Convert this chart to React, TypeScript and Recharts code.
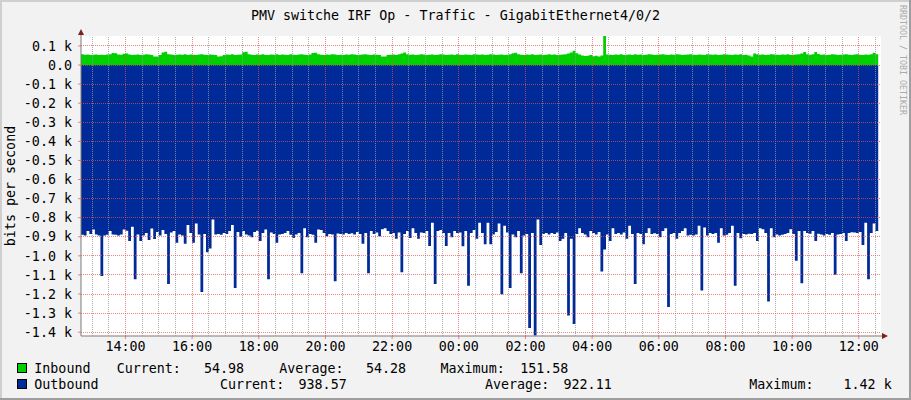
import { AreaChart, Area, XAxis, YAxis, CartesianGrid, ReferenceLine } from "recharts";

document.body.style.margin = "0";

const TITLE = "PMV switche IRF Op - Traffic - GigabitEthernet4/0/2";
const Y_LABEL = "bits per second";
const WATERMARK = "RRDTOOL / TOBI OETIKER";

// 5-minute samples, starting 12:40 on the first day
const START_HOUR = 12 + 40 / 60;
const STEP_HOURS = 5 / 60;

const INBOUND = [
  56, 54, 55, 53, 54, 55, 52, 54, 53, 55, 56, 63,
  62, 55, 54, 59, 60, 55, 53, 54, 55, 52, 54, 56,
  55, 53, 45, 44, 52, 66, 69, 57, 55, 53, 54, 55,
  54, 56, 53, 55, 54, 52, 55, 56, 54, 53, 55, 54,
  52, 44, 46, 53, 55, 54, 56, 53, 54, 55, 67, 69,
  57, 54, 53, 55, 54, 56, 53, 52, 55, 54, 56, 53,
  55, 54, 52, 56, 54, 53, 55, 57, 54, 53, 55, 63,
  64, 56, 54, 53, 55, 54, 56, 55, 53, 54, 52, 55,
  54, 56, 55, 53, 54, 55, 57, 54, 52, 55, 54, 53,
  45, 44, 52, 54, 55, 53, 56, 60, 66, 57, 54, 55,
  53, 54, 56, 55, 53, 54, 55, 52, 54, 56, 55, 53,
  54, 55, 53, 56, 54, 52, 55, 54, 53, 56, 55, 54,
  55, 53, 54, 56, 55, 53, 54, 55, 52, 54, 56, 62,
  64, 56, 54, 53, 55, 54, 56, 53, 54, 55, 53, 54,
  56, 54, 55, 53, 54, 55, 57, 60, 66, 75, 62, 55,
  50, 47, 49, 53, 46, 48, 45, 50, 151.58, 55, 54, 53,
  55, 54, 56, 53, 54, 55, 53, 56, 54, 55, 53, 54,
  56, 55, 53, 54, 55, 56, 54, 53, 55, 54, 56, 55,
  53, 54, 55, 56, 54, 53, 55, 54, 53, 56, 55, 54,
  55, 53, 54, 56, 55, 54, 53, 55, 54, 56, 53, 54,
  50, 45, 60, 56, 54, 55, 53, 54, 56, 55, 54, 53,
  55, 54, 56, 53, 54, 55, 57, 60, 68, 56, 54, 57,
  68, 58, 54, 55, 53, 54, 56, 55, 53, 54, 55, 56,
  54, 53, 55, 56, 54, 53, 55, 54, 56, 64, 56, 54.98,
];

const OUTBOUND = [
  890, 893, 870, 885, 862, 888, 893, 1105, 893, 890, 870, 888,
  890, 893, 888, 862, 868, 922, 847, 1122, 888, 922, 893, 880,
  917, 857, 912, 875, 893, 865, 885, 1148, 878, 870, 932, 888,
  893, 937, 838, 880, 932, 830, 888, 1190, 885, 981, 962, 810,
  888, 886, 890, 880, 886, 870, 838, 1169, 875, 900, 870, 888,
  893, 902, 875, 868, 922, 880, 862, 1122, 878, 885, 932, 888,
  885, 880, 870, 890, 906, 888, 880, 1091, 856, 902, 885, 890,
  932, 862, 865, 880, 897, 885, 888, 1133, 883, 885, 888, 880,
  885, 882, 888, 875, 886, 937, 880, 1091, 870, 885, 878, 897,
  860, 856, 870, 885, 880, 911, 878, 1086, 885, 870, 906, 856,
  880, 911, 878, 880, 870, 948, 826, 1148, 870, 865, 880, 948,
  880, 902, 870, 880, 878, 950, 870, 1157, 880, 865, 911, 826,
  880, 939, 826, 939, 888, 875, 830, 1201, 842, 878, 1169, 888,
  902, 870, 1091, 893, 885, 1378, 880, 1418, 810, 943, 885, 880,
  888, 880, 885, 878, 922, 911, 880, 1312, 911, 1357, 885, 856,
  880, 888, 902, 870, 880, 888, 875, 1082, 967, 888, 922, 856,
  885, 880, 888, 878, 911, 842, 885, 1148, 880, 885, 939, 880,
  856, 885, 882, 886, 902, 870, 856, 1268, 885, 880, 911, 880,
  870, 856, 893, 890, 893, 888, 842, 1181, 852, 893, 880, 886,
  880, 932, 856, 893, 890, 880, 842, 1157, 880, 908, 885, 888,
  884, 886, 880, 922, 856, 860, 880, 1239, 856, 902, 888, 893,
  890, 886, 880, 860, 885, 1026, 870, 1143, 870, 880, 884, 870,
  922, 884, 888, 893, 886, 890, 880, 1099, 888, 886, 880, 922,
  880, 876, 878, 880, 875, 943, 826, 1122, 880, 830, 870, 938.57,
];

// hours since midnight of day one
const X_TICKS = [14, 16, 18, 20, 22, 24, 26, 28, 30, 32, 34, 36];
const X_MINOR = [
  13, 13.5, 14.5, 15, 15.5, 16.5, 17, 17.5, 18.5, 19, 19.5, 20.5, 21, 21.5,
  22.5, 23, 23.5, 24.5, 25, 25.5, 26.5, 27, 27.5, 28.5, 29, 29.5, 30.5, 31,
  31.5, 32.5, 33, 33.5, 34.5, 35, 35.5, 36.5,
];
const Y_TICKS = [100, 0, -100, -200, -300, -400, -500, -600, -700, -800, -900, -1000, -1100, -1200, -1300, -1400];

const INBOUND_STATS = { current: "54.98", average: "54.28", maximum: "151.58" };
const OUTBOUND_STATS = { current: "938.57", average: "922.11", maximum: "1.42 k" };

const BACK = "#F2F2F2";
const SHADE_A = "#CFCFCF";
const SHADE_B = "#9E9E9E";
const GRID = "rgba(150,150,160,0.8)";
const MGRID = "rgba(230,80,80,0.7)";
const ARROW = "#801F1F";
const AXIS = "#7A7A7A";
const GREEN = "#00CF00";
const BLUE = "#002A97";
const FONT = "DejaVu Sans Mono";
const FS = 13.33;

const X_DOMAIN: [number, number] = [START_HOUR, START_HOUR + 24];
const Y_DOMAIN: [number, number] = [-1420, 152];
const MARGIN = { top: 36, right: 30, bottom: 0, left: 0 };

const data = INBOUND.map((v, i) => ({
  t: START_HOUR + i * STEP_HOURS,
  inb: v,
  out: -OUTBOUND[i],
}));

const fmtY = (v: number) => (v === 0 ? "0.0" : (v / 1000).toFixed(1) + " k");
const fmtX = (h: number) => String(h % 24).padStart(2, "0") + ":00";

const txt = { fontFamily: FONT, fontSize: FS, fill: "#000" };

export default function App() {
  return (
    <div style={{ position: "relative", width: 911, height: 400, background: BACK, overflow: "hidden" }}>
      {/* data layer */}
      <AreaChart width={911} height={400} data={data} margin={MARGIN}>
        <CartesianGrid horizontal={false} vertical={false} fill="#FFFFFF" fillOpacity={1} />
        <XAxis
          type="number"
          dataKey="t"
          domain={X_DOMAIN}
          ticks={X_TICKS}
          interval={0}
          tickFormatter={fmtX}
          height={64}
          tickSize={3}
          tickMargin={3}
          allowDataOverflow
          axisLine={{ stroke: AXIS }}
          tickLine={{ stroke: MGRID }}
          tick={txt}
        />
        <YAxis
          type="number"
          domain={Y_DOMAIN}
          ticks={Y_TICKS}
          interval={0}
          tickFormatter={fmtY}
          width={81}
          tickSize={3}
          tickMargin={6}
          allowDataOverflow
          axisLine={{ stroke: AXIS }}
          tickLine={{ stroke: MGRID }}
          tick={txt}
        />
        <Area type="stepAfter" dataKey="out" baseValue={0} fill={BLUE} fillOpacity={1} stroke="none" dot={false} activeDot={false} isAnimationActive={false} />
        <Area type="stepAfter" dataKey="inb" baseValue={0} fill={GREEN} fillOpacity={1} stroke="none" dot={false} activeDot={false} isAnimationActive={false} />
      </AreaChart>

      {/* grid layer, drawn on top of the areas like rrdtool does */}
      <div style={{ position: "absolute", left: 0, top: 0, pointerEvents: "none" }}>
        <AreaChart width={911} height={400} data={data} margin={MARGIN}>
          <XAxis type="number" dataKey="t" domain={X_DOMAIN} ticks={X_TICKS} height={64} allowDataOverflow tick={false} tickLine={false} axisLine={false} />
          <YAxis type="number" domain={Y_DOMAIN} ticks={Y_TICKS} width={81} allowDataOverflow tick={false} tickLine={false} axisLine={false} />
          {X_MINOR.map(h => (
            <ReferenceLine key={"m" + h} x={h} stroke={GRID} strokeDasharray="1 1" shapeRendering="crispEdges" />
          ))}
          {X_TICKS.map(h => (
            <ReferenceLine key={"M" + h} x={h} stroke={MGRID} strokeDasharray="1 1" shapeRendering="crispEdges" />
          ))}
          {Y_TICKS.map(v => (
            <ReferenceLine key={"y" + v} y={v} stroke={MGRID} strokeDasharray="1 1" shapeRendering="crispEdges" />
          ))}
        </AreaChart>
      </div>

      <svg width={911} height={400} style={{ position: "absolute", left: 0, top: 0, pointerEvents: "none" }}>
        {/* 3d frame */}
        <rect x={0} y={0} width={911} height={2} fill={SHADE_A} />
        <rect x={0} y={0} width={2} height={400} fill={SHADE_A} />
        <rect x={0} y={398} width={911} height={2} fill={SHADE_B} />
        <rect x={909} y={0} width={2} height={400} fill={SHADE_B} />

        {/* axis arrows */}
        <line x1={81} y1={36} x2={81} y2={31} stroke={AXIS} />
        <polygon points="78,35 84,35 81,29" fill={ARROW} />
        <line x1={881} y1={336} x2={884} y2={336} stroke={AXIS} />
        <polygon points="882,333 882,339 888,336" fill={ARROW} />

        <text x={455.5} y={19.5} textAnchor="middle" style={txt}>{TITLE}</text>
        <text transform="translate(15,186) rotate(-90)" textAnchor="middle" style={txt}>{Y_LABEL}</text>
        <text transform="translate(899.5,5) rotate(90)" style={{ fontFamily: FONT, fontSize: 8.3, fill: "#ABABAB" }}>{WATERMARK}</text>

        {/* legend */}
        <rect x={17.5} y={363.5} width={9} height={9} fill={GREEN} stroke="#000" />
        <rect x={17.5} y={379.5} width={9} height={9} fill={BLUE} stroke="#000" />
        <g style={txt}>
          <text x={34.3} y={373}>Inbound</text>
          <text x={116.7} y={373}>Current:</text>
          <text x={244} y={373} textAnchor="end">{INBOUND_STATS.current}</text>
          <text x={279.3} y={373}>Average:</text>
          <text x={406} y={373} textAnchor="end">{INBOUND_STATS.average}</text>
          <text x={440.5} y={373}>Maximum:</text>
          <text x={568.3} y={373} textAnchor="end">{INBOUND_STATS.maximum}</text>

          <text x={34.3} y={389}>Outbound</text>
          <text x={220} y={389}>Current:</text>
          <text x={346.7} y={389} textAnchor="end">{OUTBOUND_STATS.current}</text>
          <text x={485} y={389}>Average:</text>
          <text x={611.7} y={389} textAnchor="end">{OUTBOUND_STATS.average}</text>
          <text x={749.3} y={389}>Maximum:</text>
          <text x={891.7} y={389} textAnchor="end">{OUTBOUND_STATS.maximum}</text>
        </g>
      </svg>
    </div>
  );
}
